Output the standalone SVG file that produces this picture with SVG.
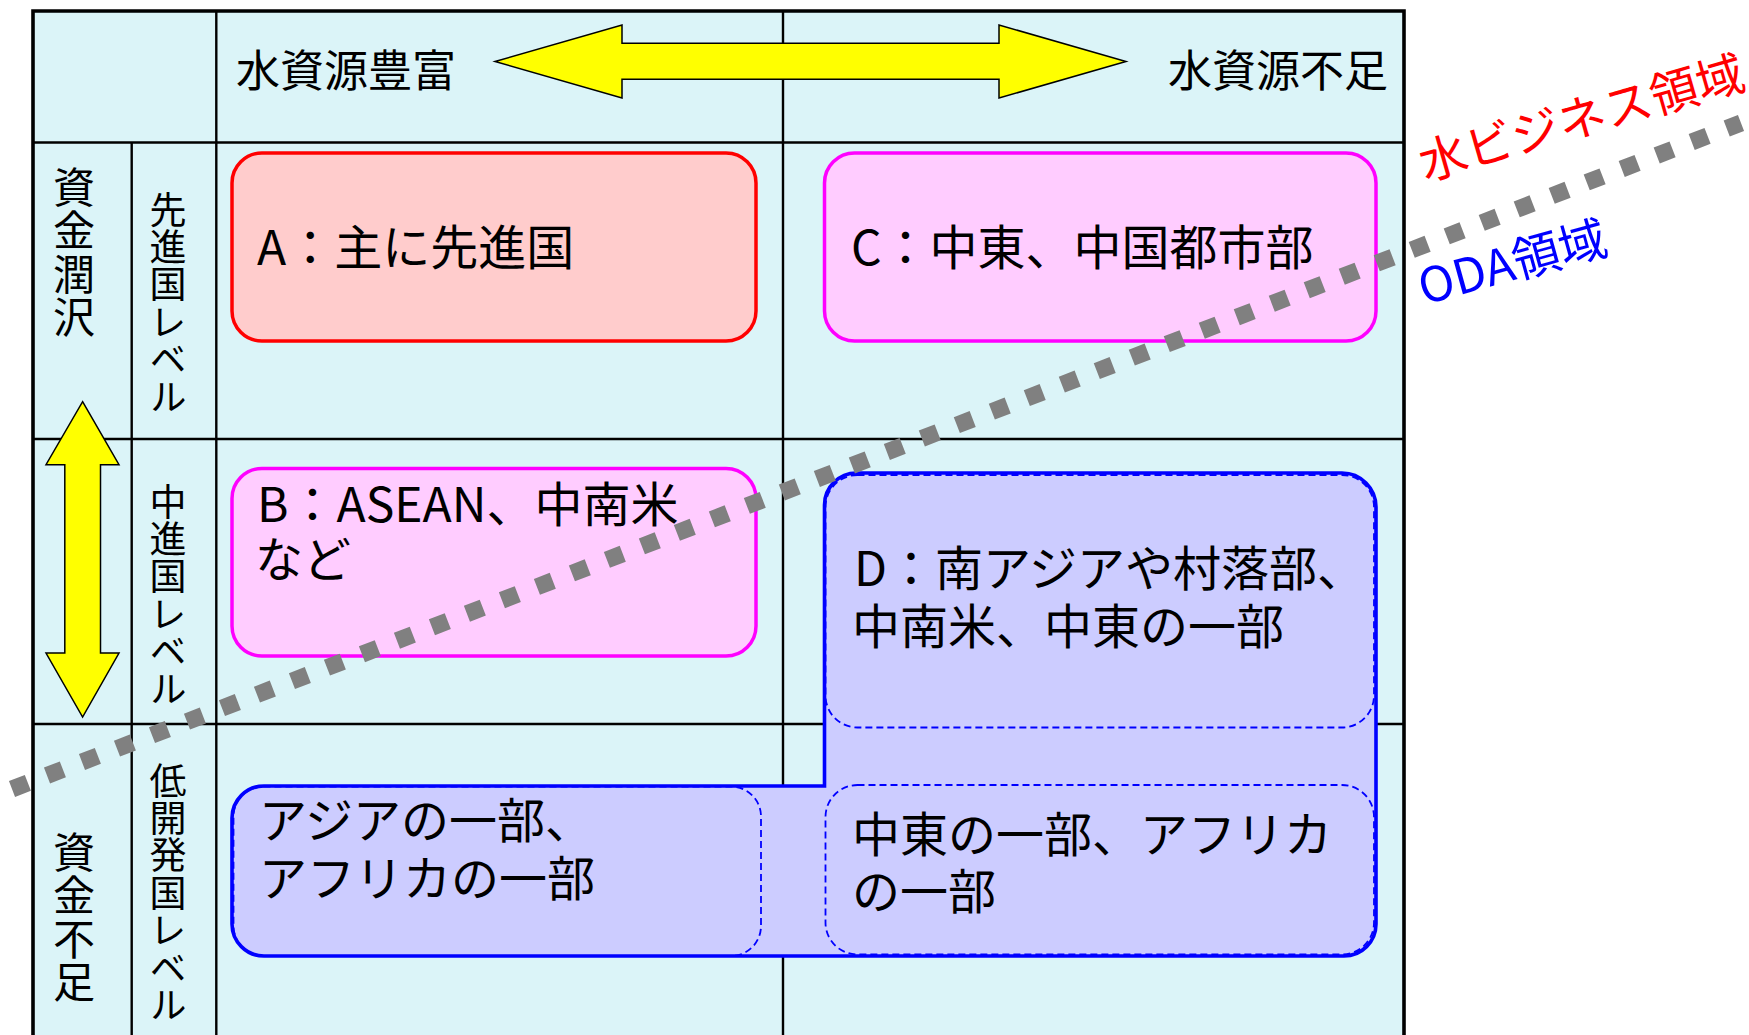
<svg xmlns="http://www.w3.org/2000/svg" width="1749" height="1035" viewBox="0 0 1749 1035">
<style>
.t{font-family:"Noto Sans CJK JP","Noto Sans",sans-serif;fill:#000}
.hd{font-size:44px}
.vt{writing-mode:vertical-rl;text-orientation:upright}
.v1{font-size:42px;letter-spacing:1.5px}
.v2{font-size:37px;letter-spacing:0.4px}
.bx{font-size:48px}
.grid{stroke:#000;stroke-width:2.4;fill:none}
.yarrow{fill:#FFFF00;stroke:#000;stroke-width:1.5;stroke-linejoin:miter}
.dash{fill:none;stroke:#0000FF;stroke-width:1.8;stroke-dasharray:7 4}
</style>
<rect width="1749" height="1035" fill="#FFFFFF"/>
<g id="table">
<rect x="33" y="11" width="1371" height="1040" fill="#DBF4F8"/>
<line class="grid" x1="33" y1="142.5" x2="1404" y2="142.5"/>
<line class="grid" x1="33" y1="439" x2="1404" y2="439"/>
<line class="grid" x1="33" y1="724" x2="1404" y2="724"/>
<line class="grid" x1="131.7" y1="142.5" x2="131.7" y2="1040"/>
<line class="grid" x1="216.3" y1="11" x2="216.3" y2="1040"/>
<line class="grid" x1="783" y1="11" x2="783" y2="1040"/>
<path d="M33,1040 V11 H1404 V1040" fill="none" stroke="#000" stroke-width="3.6"/>
</g>
<g id="header-labels">
<text class="t hd" x="236" y="87">水資源豊富</text>
<text class="t hd" x="1388" y="87" text-anchor="end">水資源不足</text>
</g>
<g id="row-labels">
<text class="t vt v1" x="74" y="166">資金潤沢</text>
<text class="t vt v1" x="74" y="831">資金不足</text>
<text class="t vt v2" x="168" y="191">先進国レベル</text>
<text class="t vt v2" x="168" y="483">中進国レベル</text>
<text class="t vt v2" x="168" y="762">低開発国レベル</text>
</g>
<g id="box-A">
<rect x="232" y="153" width="524" height="188" rx="30" fill="#FFCCCC" stroke="#FF0000" stroke-width="3.5"/>
<text class="t bx" x="257" y="265">A：主に先進国</text>
</g>
<g id="box-C">
<rect x="824.5" y="153" width="551.5" height="188" rx="30" fill="#FFCCFF" stroke="#FF00FF" stroke-width="3.5"/>
<text class="t bx" x="851" y="265">C：中東、中国都市部</text>
</g>
<g id="box-B">
<rect x="232" y="468.5" width="524" height="187.5" rx="30" fill="#FFCCFF" stroke="#FF00FF" stroke-width="3.5"/>
<text class="t bx"><tspan x="257" y="522">B：ASEAN、中南米</tspan><tspan x="255" y="577">など</tspan></text>
</g>
<g id="oda-region">
<path d="M856.5,473 H1342 A34,34 0 0 1 1376,507 V924 A32,32 0 0 1 1344,956 H264 A32,32 0 0 1 232,924 V818 A32,32 0 0 1 264,786 H824.5 V505 A32,32 0 0 1 856.5,473 Z" fill="#CCCCFF" stroke="#0000FF" stroke-width="3.6"/>
<rect class="dash" x="825.5" y="475" width="548.5" height="252.5" rx="32"/>
<rect class="dash" x="825.5" y="785" width="548.5" height="169.5" rx="32"/>
<rect class="dash" x="233.5" y="786.5" width="527.5" height="169.5" rx="30"/>
</g>
<g id="box-D">
<text class="t bx"><tspan x="854" y="586">D：南アジアや村落部、</tspan><tspan x="852" y="644">中南米、中東の一部</tspan></text>
</g>
<g id="box-LR">
<text class="t bx"><tspan x="852" y="852">中東の一部、アフリカ</tspan><tspan x="852" y="909">の一部</tspan></text>
</g>
<g id="box-LL">
<text class="t bx"><tspan x="259" y="838">アジアの一部、</tspan><tspan x="259" y="896">アフリカの一部</tspan></text>
</g>
<g id="connectors">
<path class="yarrow" d="M495,61.5 L622,25 V43.3 H999 V25 L1126,61.5 L999,98 V79.3 H622 V98 Z"/>
<path class="yarrow" d="M82.6,401.7 L119,464.7 H100.5 V653 H119 L82.6,717 L46,653 H64.8 V464.7 H46 Z"/>
<path d="M12,789 L1741,123" fill="none" stroke="#808080" stroke-width="17" stroke-dasharray="17 20.5"/>
</g>
<g id="region-labels">
<text class="t" font-size="48" style="fill:#FF0000" transform="translate(1425,181) rotate(-16)">水ビジネス領域</text>
<text class="t" font-size="48" style="fill:#0000FF" transform="translate(1424,305) rotate(-15.5)">ODA領域</text>
</g>
</svg>
